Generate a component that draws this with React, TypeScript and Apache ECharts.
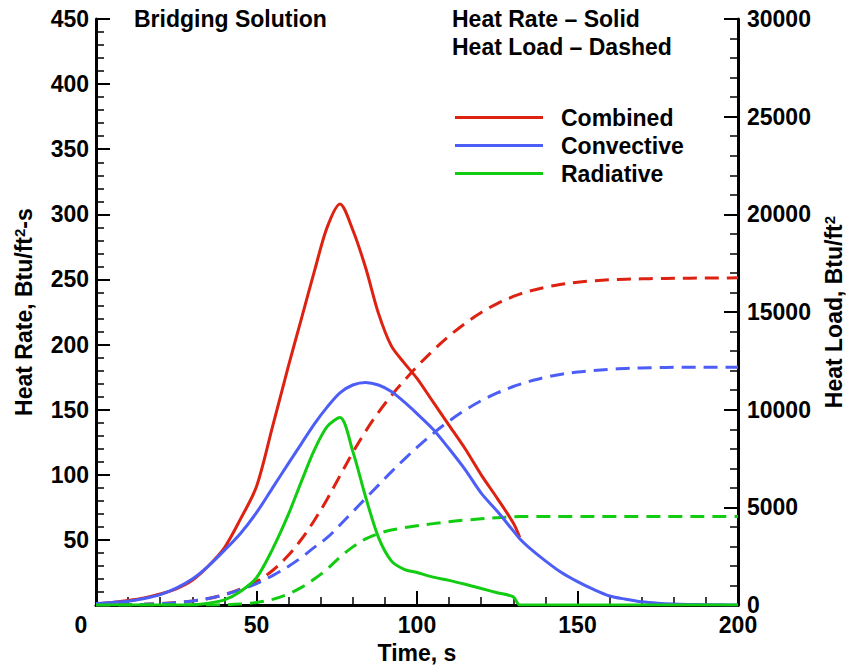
import React, { useEffect, useRef } from "react";
import * as echarts from "echarts";

// Time stations, s
const time = [
  0, 5, 10, 15, 20, 25, 30, 35, 40, 45, 50, 55, 60, 64, 68, 72, 76, 80, 84, 88, 92, 96, 100,
  105, 110, 115, 120, 125, 130, 132, 135, 140, 145, 150, 155, 160, 165, 170, 175, 180, 185,
  190, 195, 200,
];

// Heat rate, Btu/ft²-s (solid lines, left axis)
const combinedRate = [
  1, 2, 3.5, 5.5, 8.5, 12.5, 19, 30, 44, 66, 91, 137, 184, 220, 256, 290, 308, 288, 259, 224,
  199, 186, 174, 156, 138, 120, 100, 82, 63, 52, null, null, null, null, null, null, null, null,
  null, null, null, null, null, null,
];
const convectiveRate = [
  1.3, 2, 3, 5, 8, 13, 20, 30, 42, 55, 71, 90, 109, 124, 139, 152, 163, 169, 171, 169, 164, 156,
  147, 135, 120, 104, 86, 72, 57, 51, 44, 34, 25, 18, 12, 7, 4.5, 2.5, 1.4, 0.8, 0.5, 0.3, 0.2,
  0.1,
];
const radiativeRate = [
  0, 0, 0, 0, 0, 0, 0.3, 1.5, 4, 10.5, 21, 43, 70, 95, 119, 137, 144, 118, 83, 52, 34, 27.5, 25,
  21.5, 19, 16, 12.7, 9.5, 6.3, 0, 0, 0, 0, 0, 0, 0, 0, 0, 0, 0, 0, 0, 0, 0,
];

// Heat load, Btu/ft² (dashed lines, right axis)
const combinedLoad = [
  0, 8, 21, 44, 79, 131, 209, 335, 540, 820, 1200, 1770, 2560, 3370, 4330, 5420, 6620, 7810,
  8900, 9870, 10720, 11490, 12210, 13030, 13770, 14420, 14980, 15430, 15800, 15920, 16070,
  16270, 16420, 16530, 16600, 16650, 16680, 16700, 16715, 16725, 16735, 16740, 16745, 16750,
];
const convectiveLoad = [
  0, 8, 21, 41, 73, 126, 208, 333, 530, 790, 1100, 1510, 1990, 2440, 2956, 3450, 4100, 4780,
  5460, 6140, 6820, 7460, 8070, 8780, 9420, 9980, 10460, 10860, 11190, 11300, 11450, 11660,
  11820, 11930, 12010, 12070, 12110, 12140, 12160, 12170, 12175, 12180, 12180, 12180,
];
const radiativeLoad = [
  0, 0, 0, 0, 0, 0, 1, 5, 18, 54, 133, 293, 576, 906, 1334, 1844, 2450, 2980, 3390, 3660, 3840,
  3960, 4060, 4170, 4270, 4350, 4420, 4475, 4520, 4530, 4533, 4533, 4533, 4533, 4533, 4533,
  4533, 4533, 4533, 4533, 4533, 4533, 4533, 4533,
];

const seriesNames = ["Combined", "Convective", "Radiative"];
const seriesColors = ["#dd2211", "#4c5ef6", "#12cc12"];

const FONT = "'Liberation Sans', Arial, Helvetica, sans-serif";
const FS = 23;

const pairs = (vals: (number | null)[]) => time.map((t, i) => [t, vals[i]]);

export default function App() {
  const ref = useRef<HTMLDivElement>(null);

  useEffect(() => {
    document.body.style.margin = "0";
    document.body.style.overflow = "hidden";
    if (!ref.current) return;
    const chart = echarts.init(ref.current, null, { renderer: "svg", width: 854, height: 670 });

    const labelCommon = { fontFamily: FONT, fontSize: FS, fontWeight: "bold" as const, color: "#000" };
    const supStyle = { fontFamily: FONT, fontSize: 15, fontWeight: "bold" as const, color: "#000", verticalAlign: "top" as const };

    const axisCommon = {
      axisLine: { show: true, lineStyle: { color: "#000", width: 3 } },
      axisTick: { show: true, inside: true, length: 14, lineStyle: { color: "#000", width: 2 } },
      minorTick: { show: true, splitNumber: 5, length: 8, lineStyle: { color: "#000", width: 1.5 } },
      splitLine: { show: false },
      nameTextStyle: { ...labelCommon, lineHeight: 24, rich: { sup: supStyle } },
    };

    const solid = [combinedRate, convectiveRate, radiativeRate];
    const dashed = [combinedLoad, convectiveLoad, radiativeLoad];

    const series: any[] = [];
    dashed.forEach((vals, i) => {
      series.push({
        name: seriesNames[i] + " Load",
        type: "line",
        yAxisIndex: 1,
        data: pairs(vals),
        symbol: "none",
        smooth: 0.35,
        lineStyle: { color: seriesColors[i], width: 3, type: [14, 8] },
        itemStyle: { color: seriesColors[i] },
      });
    });
    solid.forEach((vals, i) => {
      series.push({
        name: seriesNames[i],
        type: "line",
        yAxisIndex: 0,
        data: pairs(vals),
        symbol: "none",
        smooth: 0.3,
        connectNulls: false,
        lineStyle: { color: seriesColors[i], width: 3 },
        itemStyle: { color: seriesColors[i] },
      });
    });

    chart.setOption({
      animation: false,
      backgroundColor: "#fff",
      grid: { left: 96, top: 19, width: 650, height: 591, containLabel: false },
      legend: {
        data: seriesNames,
        orient: "vertical",
        left: 455,
        top: 106,
        padding: 0,
        icon: "rect",
        itemWidth: 88,
        itemHeight: 3,
        itemGap: 5,
        textStyle: { ...labelCommon, lineHeight: 23, padding: [0, 0, 0, 13] },
      },
      xAxis: {
        type: "value",
        min: 0,
        max: 200,
        interval: 50,
        name: "Time, s",
        nameLocation: "middle",
        nameGap: 33,
        ...axisCommon,
        axisLabel: {
          ...labelCommon,
          margin: 8,
          formatter: (v: number) => (v === 0 ? "{z|0}" : String(v)),
          rich: { z: { ...labelCommon, padding: [0, 30, 0, 0] } },
        },
      },
      yAxis: [
        {
          type: "value",
          position: "left",
          min: 0,
          max: 450,
          interval: 50,
          name: "Heat Rate, Btu/ft{sup|2}-s",
          nameLocation: "middle",
          nameRotate: 90,
          nameGap: 60,
          ...axisCommon,
          axisLabel: {
            ...labelCommon,
            margin: 7,
            formatter: (v: number) => (v === 0 ? "" : String(v)),
          },
        },
        {
          type: "value",
          position: "right",
          min: 0,
          max: 30000,
          interval: 5000,
          name: "Heat Load, Btu/ft{sup|2}",
          nameLocation: "middle",
          nameRotate: 90,
          nameGap: 84,
          ...axisCommon,
          axisLabel: { ...labelCommon, margin: 9, formatter: (v: number) => String(v) },
        },
      ],
      graphic: [
        { type: "text", left: 134, top: 7, style: { text: "Bridging Solution", font: `bold ${FS}px ${FONT}`, fill: "#000" } },
        { type: "text", left: 452, top: 7, style: { text: "Heat Rate – Solid", font: `bold ${FS}px ${FONT}`, fill: "#000" } },
        { type: "text", left: 452, top: 35, style: { text: "Heat Load – Dashed", font: `bold ${FS}px ${FONT}`, fill: "#000" } },
      ],
      series,
    });

    return () => chart.dispose();
  }, []);

  return <div ref={ref} style={{ width: 854, height: 670, background: "#fff" }} />;
}
